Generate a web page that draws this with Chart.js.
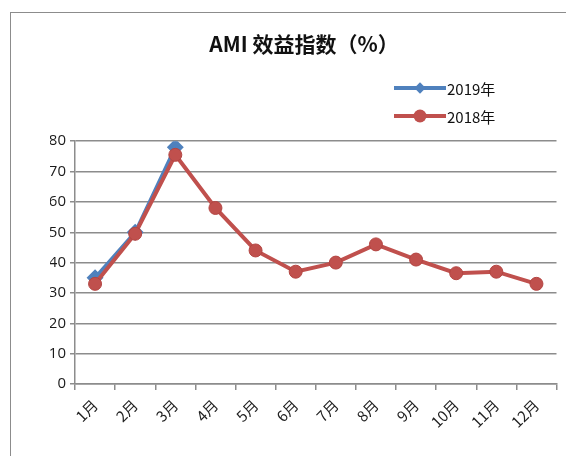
<!DOCTYPE html>
<html>
<head>
<meta charset="utf-8">
<script src="https://cdn.jsdelivr.net/npm/chart.js@4"></script>
<style>
  html, body { margin: 0; padding: 0; background: #fff; }
  #wrap { position: relative; width: 566px; height: 456px; overflow: hidden; }
  #frame { position: absolute; left: 10px; top: 12px; width: 600px; height: 500px;
           border-left: 1px solid #8c8c8c; border-top: 1px solid #8c8c8c; }
  #chart { position: absolute; left: 0; top: 0; }
  .lg { position: absolute; left: 394px; height: 20px; font: 15px "Noto Sans CJK SC", "Liberation Sans", sans-serif;
        color: #111; display: flex; align-items: center; }
  .lg .ln { position: relative; width: 52px; height: 4px; margin-right: 1px; }
  .lg .mk { position: absolute; left: 26px; top: 2px; transform: translate(-50%, -50%); }
</style>
</head>
<body>
<div id="wrap">
  <div id="frame"></div>
  <canvas id="chart" width="566" height="456"></canvas>
  <div class="lg" style="top:78px"><span class="ln" style="background:#4F81BD"><span class="mk" style="width:8px;height:8px;background:#4F81BD;transform:translate(-50%,-50%) rotate(45deg)"></span></span>2019年</div>
  <div class="lg" style="top:106px"><span class="ln" style="background:#C0504D"><span class="mk" style="width:13px;height:13px;border-radius:50%;background:#C0504D"></span></span>2018年</div>
</div>
<script>
// 月份 + 两年的效益指数（%）
var months = ['1月','2月','3月','4月','5月','6月','7月','8月','9月','10月','11月','12月'];
var ami2019 = [35, 50, 78, null, null, null, null, null, null, null, null, null];
var ami2018 = [33, 49.5, 75.5, 58, 44, 37, 40, 46, 41, 36.5, 37, 33];
var yMin = 0, yMax = 80, yStep = 10;

var BLUE = '#4F81BD', RED = '#C0504D';
var GRID = '#8c8c8c';

new Chart(document.getElementById('chart'), {
  type: 'line',
  data: {
    labels: months,
    datasets: [
      { label: '2018年', data: ami2018, order: 1,
        borderColor: RED, backgroundColor: RED, borderWidth: 4,
        pointStyle: 'circle', pointRadius: 6.5, pointBorderWidth: 1, pointBorderColor: '#b34542' },
      { label: '2019年', data: ami2019, order: 2,
        borderColor: BLUE, backgroundColor: BLUE, borderWidth: 3.5,
        pointStyle: 'rectRot', pointRadius: 6, spanGaps: false }
    ]
  },
  options: {
    responsive: false,
    animation: false,
    devicePixelRatio: 1,
    layout: { padding: { left: 50, right: 8, top: 0, bottom: 0 } },
    plugins: {
      legend: { display: false },
      tooltip: { enabled: false },
      title: {
        display: true,
        text: 'AMI 效益指数（%）',
        color: '#111',
        font: { family: "'Noto Sans CJK SC', 'Liberation Sans', sans-serif", size: 21, weight: 'bold' },
        padding: { top: 31, bottom: 85 }
      }
    },
    scales: {
      x: {
        offset: true,
        grid: { offset: true, drawOnChartArea: false, drawTicks: true, tickLength: 6, color: GRID, lineWidth: 1.5 },
        border: { color: GRID, width: 1.5 },
        ticks: { color: '#222', minRotation: 45, maxRotation: 45, padding: 6,
                 font: { family: "'Noto Sans CJK SC', sans-serif", size: 15 } },
        afterFit: function (s) { s.height = 72; }
      },
      y: {
        min: yMin, max: yMax,
        grid: { color: GRID, lineWidth: 1.5, tickLength: 5 },
        border: { color: GRID, width: 1.5 },
        ticks: { stepSize: yStep, color: '#1a1a1a', padding: 4,
                 font: { family: "'Open Sans', 'Liberation Sans', sans-serif", size: 15 } },
        afterFit: function (s) { s.width = 25; }
      }
    }
  }
});
</script>
</body>
</html>
